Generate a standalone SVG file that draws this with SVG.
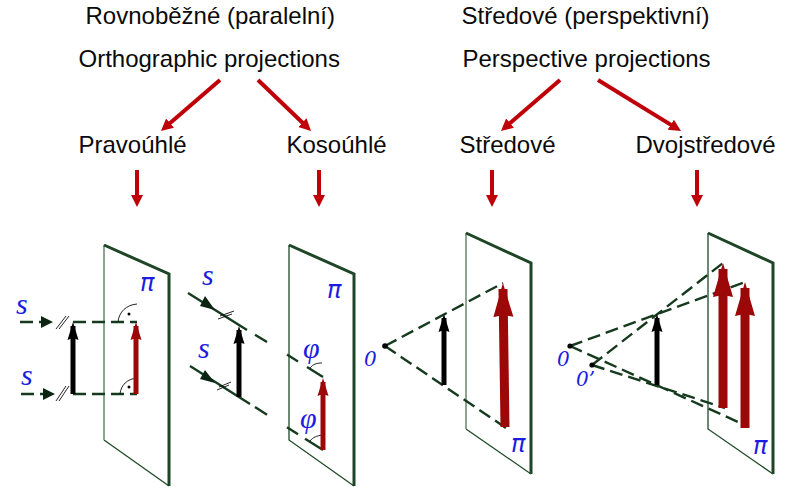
<svg xmlns="http://www.w3.org/2000/svg" width="787" height="502" viewBox="0 0 787 502">
<style>
.t{font-family:"Liberation Sans",Arial,sans-serif;font-size:24px;fill:#0a0a0a}
.m{font-family:"Liberation Serif","Times New Roman",serif;font-style:italic;font-size:30px;fill:#1c1ce0}
.z{font-family:"DejaVu Serif",serif;font-style:italic;font-size:20px;fill:#1c1ce0}
.pi{font-family:"DejaVu Sans",sans-serif;font-style:italic;font-size:24px;fill:#1c1ce0}
.flow{stroke:#c00008;stroke-width:4;fill:none}
.plane{fill:none;stroke:#1f4a28;stroke-width:1.3}
.thick{fill:none;stroke:#1d4526;stroke-width:3}
.thin{fill:none;stroke:#6f8f75;stroke-width:1.6}
.d{stroke:#163a1e;stroke-width:2.4;fill:none;stroke-dasharray:13 6}
.s{stroke:#163a1e;stroke-width:2.4;fill:none}
.k{stroke:#0a0a0a;stroke-width:.9;fill:none}
.b{stroke:#000;stroke-width:5;fill:none}
.r{stroke:#9c0808;stroke-width:5;fill:none}
.R{stroke:#9c0808;stroke-width:9;fill:none}
.h{fill:#0c2412}
</style>
<defs>
<marker id="mf" markerUnits="userSpaceOnUse" markerWidth="14" markerHeight="14" refX="6" refY="7" orient="auto"><polygon points="0,1 12,7 0,13" fill="#c00008"/></marker>
<marker id="mb" markerUnits="userSpaceOnUse" markerWidth="20" markerHeight="14" refX="14" refY="7" orient="auto"><polygon points="0,1.500 18,7 0,12.500 2,7" fill="#000"/></marker>
<marker id="mr" markerUnits="userSpaceOnUse" markerWidth="20" markerHeight="14" refX="14" refY="7" orient="auto"><polygon points="0,1.500 18,7 0,12.500 2,7" fill="#9c0808"/></marker>
<marker id="mR" markerUnits="userSpaceOnUse" markerWidth="38" markerHeight="22" refX="28" refY="11" orient="auto"><polygon points="0,1 34,11 0,21 2,11" fill="#9c0808"/></marker>
</defs>

<g id="labels">
<text class="t" x="85.500" y="24">Rovnoběžné (paralelní)</text>
<text class="t" x="78.500" y="67">Orthographic projections</text>
<text class="t" x="78.500" y="153">Pravoúhlé</text>
<text class="t" x="286.500" y="153">Kosoúhlé</text>
<text class="t" x="461.500" y="24">Středové (perspektivní)</text>
<text class="t" x="462.500" y="67">Perspective projections</text>
<text class="t" x="459.500" y="153">Středové</text>
<text class="t" x="635.500" y="153">Dvojstředové</text>
</g>

<g id="connectors">
<line class="flow" x1="220" y1="80" x2="165.500" y2="127" marker-end="url(#mf)"/>
<line class="flow" x1="258" y1="80" x2="306.700" y2="126.800" marker-end="url(#mf)"/>
<line class="flow" x1="560" y1="80" x2="505.500" y2="127" marker-end="url(#mf)"/>
<line class="flow" x1="598" y1="80" x2="675.900" y2="127.900" marker-end="url(#mf)"/>
<line class="flow" x1="137" y1="170" x2="137" y2="201" marker-end="url(#mf)"/>
<line class="flow" x1="319" y1="170" x2="319" y2="201" marker-end="url(#mf)"/>
<line class="flow" x1="492" y1="170" x2="492" y2="201" marker-end="url(#mf)"/>
<line class="flow" x1="697" y1="170" x2="697" y2="201" marker-end="url(#mf)"/>
</g>

<g id="panel-orthogonal">
<path class="plane" d="M104,440L169,486"/><path class="thin" d="M104,245V440"/><path class="thick" d="M104,245L169,274V486"/>
<path class="d" d="M20,322H45M73,322H137M21,394H45M73,394H137"/>
<path class="h" d="M41,316L53,322L41,328ZM43,388L55,394L43,400Z"/>
<path class="k" d="M56,329L66,316M59,329L69,316M56,401L66,386M59,401L69,386"/>
<path class="k" d="M118,322C119,312 126,305 137,304M120,394C121,385 127,379 137,378"/>
<circle cx="129" cy="314" r="1.500"/><circle cx="129" cy="387" r="1.500"/>
<line class="b" x1="73" y1="394" x2="73" y2="326" marker-end="url(#mb)"/>
<line class="r" x1="136" y1="394" x2="136" y2="326" marker-end="url(#mr)"/>
<text class="m" x="16" y="314">s</text><text class="m" x="21" y="385">s</text>
<text class="pi" x="140" y="291">π</text>
</g>

<g id="panel-oblique">
<path class="plane" d="M289,245V440L354,486"/><path class="thick" d="M289,245L354,274V486"/>
<path class="s" d="M188,293L247,330M190,366L250,404"/>
<path class="s" d="M255,334.700L267,342.100M287,354.600L298,361.400M307,367L323,377M255,407.100L267,414.700M287,427.300L298,434.300M305,438.700L323,450"/>
<path class="h" d="M205,296L215,310L200,306ZM205,370L215,383L200,379Z"/>
<path class="k" d="M218,319L232,314M220,316L234,311M217,390L229,385M219,387L231,382"/>
<path class="k" d="M310,368C313,364 317,363 322,363M310,441C313,437 317,436 322,435"/>
<line class="b" x1="239" y1="397" x2="239" y2="330" marker-end="url(#mb)"/>
<line class="r" x1="323" y1="450" x2="323" y2="382" marker-end="url(#mr)"/>
<text class="m" x="202" y="285">s</text><text class="m" x="198" y="358">s</text>
<text class="pi" x="327" y="298">π</text>
<text class="m" x="303" y="358">φ</text><text class="m" x="300" y="428">φ</text>
</g>

<g id="panel-perspective">
<path class="plane" d="M466,429L531,474"/><path class="thin" d="M466,233V429"/><path class="thick" d="M466,233L531,263V474"/>
<path class="d" d="M385,346L503,283M385,346L506,428"/>
<circle cx="385" cy="346" r="2.800"/>
<line class="b" x1="444" y1="385" x2="444" y2="318" marker-end="url(#mb)"/>
<line class="R" x1="505" y1="427" x2="503" y2="289" marker-end="url(#mR)"/>
<text class="z" x="364" y="366">0</text>
<text class="pi" x="511" y="452">π</text>
</g>

<g id="panel-two-point">
<path class="plane" d="M708,233V429L773,474"/><path class="thick" d="M708,233L773,263V474"/>
<path class="d" d="M570,346L745,282M592,365L723,263M570,346L747,426M592,365L725,408"/>
<circle cx="570" cy="346" r="2.600"/><circle cx="592" cy="365" r="2.600"/>
<line class="b" x1="657" y1="385" x2="657" y2="318" marker-end="url(#mb)"/>
<line class="R" x1="723" y1="408" x2="723" y2="269" marker-end="url(#mR)"/>
<line class="R" x1="745" y1="428" x2="745" y2="288" marker-end="url(#mR)"/>
<text class="z" x="557" y="366">0</text><text class="z" x="576" y="386">0’</text>
<text class="pi" x="753" y="454">π</text>
</g>
</svg>
